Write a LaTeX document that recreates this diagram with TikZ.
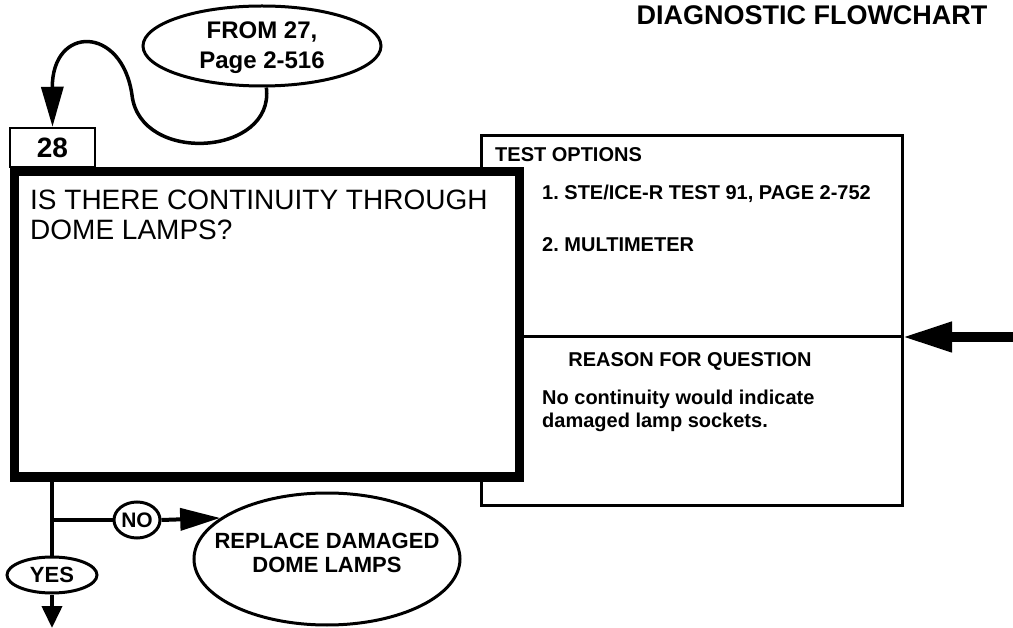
\documentclass[tikz,border=0pt]{standalone}
\usepackage{fontspec}
\setmainfont{Liberation Sans}
\frenchspacing
\usepackage{tikz}
\usetikzlibrary{arrows.meta,shapes.geometric}
\tikzset{
  px/.style={x=1pt, y=-1pt},
  qbox/.style={draw=black, line width=9pt, fill=white, inner sep=0pt},   % question box
  tbox/.style={draw=black, line width=3pt, fill=white, inner sep=0pt},   % test options / reason box
  nbox/.style={draw=black, line width=2.5pt, inner sep=0pt, minimum width=85pt, minimum height=39pt,
               font=\bfseries\fontsize{28}{30}\selectfont},
  oval/.style={ellipse, draw=black, line width=3pt, inner sep=0pt},
  flow/.style={black, line width=4pt},
  flowarr/.style={black, line width=4pt, -{Triangle[length=40pt, width=22pt]}},
  bigarr/.style={black, line width=10pt, -{Triangle[length=50pt, width=28pt]}},
  btxt/.style={font=\bfseries\fontsize{20}{23}\selectfont, inner sep=0pt, align=left},
  otxt/.style={font=\bfseries\fontsize{22}{24}\selectfont, inner sep=0pt, align=center},
}

\begin{document}
\begin{tikzpicture}[px]
  \useasboundingbox (0,0) rectangle (1013,628);
  \node[font=\bfseries\fontsize{27}{30}\selectfont, anchor=base, inner sep=0pt] (title) at (812,25) {DIAGNOSTIC FLOWCHART};
  % entry from previous step
  \node[oval, minimum width=238pt, minimum height=80pt] (from) at (262,46) {};
  \node[otxt, font=\bfseries\fontsize{24}{30}\selectfont] (fromt) at (262,48) {FROM 27,\\Page 2-516};
  \node[nbox] (n28) at (52.5,147.5) {28};
  \draw[black, line width=3.5pt, -{Triangle[length=40pt, width=22pt]}]
    (from.-84) .. controls (275,156) and (140,165) .. (132,95)
               .. controls (122,25) and (52,25) .. (n28.north);
  % test options and reason, behind the question box
  \node[tbox, minimum width=421pt, minimum height=369pt] (topt) at (691.5,320.5) {};
  \node[qbox, minimum width=505pt, minimum height=305pt] (q) at (266.5,324.5) {};
  \coordinate (sepR) at (902,337);
  \coordinate (inR) at (1013,337);
  \draw[black, line width=3pt] (q.east |- sepR) -- (sepR);
  \draw[bigarr] (inR) -- (sepR);
  % multi-line texts: base is the last line
  \node[font=\fontsize{28}{30}\selectfont, anchor=base west, inner sep=0pt, align=left] (qt) at (30,240)
    {IS THERE CONTINUITY THROUGH\\DOME LAMPS?};
  \node[btxt, anchor=base west] (tlab) at (495,162) {TEST OPTIONS};
  \node[btxt, anchor=base west] (opt1) at (542,200) {1. STE/ICE-R TEST 91, PAGE 2-752};
  \node[btxt, anchor=base west] (opt2) at (542,252) {2. MULTIMETER};
  \node[btxt, anchor=base] (rlab) at (690,367) {REASON FOR QUESTION};
  \node[btxt, anchor=base west] (rtxt) at (542,428) {No continuity would indicate\\damaged lamp sockets.};
  % answers
  \node[oval, minimum width=46pt, minimum height=36pt, font=\bfseries\fontsize{21}{23}\selectfont] (no) at (137,520) {NO};
  \node[oval, minimum width=90pt, minimum height=36pt, font=\bfseries\fontsize{22}{23}\selectfont] (yes) at (52,575) {YES};
  \node[oval, minimum width=266pt, minimum height=132pt] (rp) at (327,559) {};
  \node[otxt] (rpt) at (327,553) {REPLACE DAMAGED\\DOME LAMPS};
  \coordinate (yout) at (52,628);
  \draw[flow] (yes.north |- q.south) -- (yes.north);
  \draw[flow] (yes.north |- no) -- (no.west);
  \draw[flowarr] (no.east) -- (rp.159);
  \draw[black, line width=4pt, -{Triangle[length=22pt, width=20pt]}] (yes.south) -- (yout);
\end{tikzpicture}
\end{document}
